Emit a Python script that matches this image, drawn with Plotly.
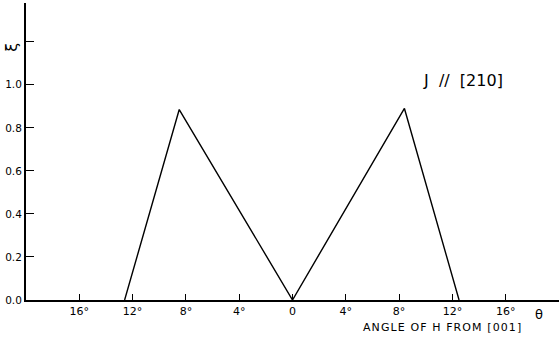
import plotly.graph_objects as go

# Angle of H from [001] (degrees, signed) and the measured xi
theta = [-12.6, -8.5, 0.0, 8.4, 12.5]
xi = [0.0, 0.885, 0.0, 0.89, 0.0]

x_tick_vals = [-16, -12, -8, -4, 0, 4, 8, 12, 16]
x_tick_text = ["16°", "12°", "8°", "4°", "0", "4°", "8°", "12°", "16°"]
y_tick_vals = [0.0, 0.2, 0.4, 0.6, 0.8, 1.0, 1.2]
y_tick_text = ["0.0", "0.2", "0.4", "0.6", "0.8", "1.0", ""]

font_family = "DejaVu Sans"
HS = "\u200a"  # hair space for the spaced-out lettering


def spaced(s):
    return HS.join(s)


fig = go.Figure()
fig.add_trace(go.Scatter(
    x=theta, y=xi, mode="lines",
    line=dict(color="black", width=1.4),
    hoverinfo="skip", showlegend=False,
))

fig.update_layout(
    width=559, height=337,
    margin=dict(l=26, r=0, t=3, b=37),
    paper_bgcolor="white", plot_bgcolor="white",
    font=dict(family=font_family, color="black", size=10),
    xaxis=dict(
        range=[-20, 20], showgrid=False, zeroline=False,
        showline=True, linecolor="black", linewidth=2,
        ticks="inside", ticklen=6, tickwidth=1.3, tickcolor="black",
        tickvals=x_tick_vals, ticktext=x_tick_text,
        tickfont=dict(size=11),
    ),
    yaxis=dict(
        range=[0, 1.38], showgrid=False, zeroline=False,
        showline=True, linecolor="black", linewidth=2,
        ticks="inside", ticklen=8, tickwidth=1.3, tickcolor="black",
        tickvals=y_tick_vals, ticktext=y_tick_text,
        tickfont=dict(size=10.5),
    ),
    annotations=[
        dict(text="ξ", xref="paper", yref="paper", x=-0.028, y=0.85,
             showarrow=False, font=dict(size=16, family=font_family),
             xanchor="center", yanchor="middle", textangle=-90),
        dict(text="J  //  [210]", xref="paper", yref="paper", x=0.82, y=0.74,
             showarrow=False, font=dict(size=16, family=font_family),
             xanchor="center", yanchor="middle"),
        dict(text=spaced("ANGLE OF H FROM [001]"), xref="paper", yref="paper",
             x=0.78, y=-0.094, showarrow=False,
             font=dict(size=11, family=font_family),
             xanchor="center", yanchor="middle"),
        dict(text="θ", xref="paper", yref="paper", x=0.962, y=-0.05,
             showarrow=False, font=dict(size=13, family=font_family),
             xanchor="center", yanchor="middle"),
    ],
)

fig.write_html("out.html")
